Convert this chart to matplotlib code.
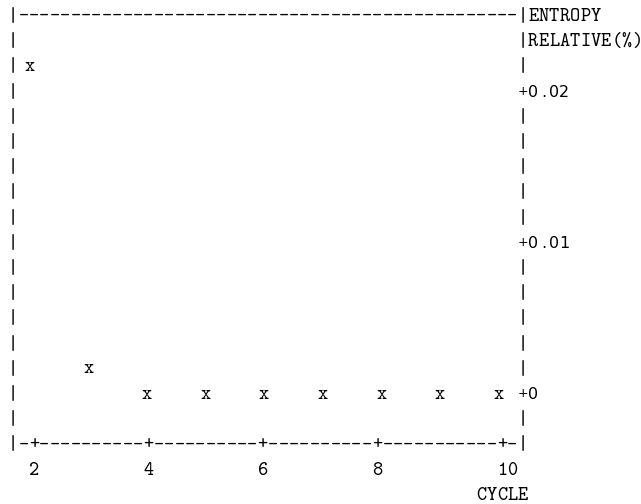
import matplotlib
matplotlib.use('Agg')
import matplotlib.pyplot as plt

# data
cycle = [2, 3, 4, 5, 6, 7, 8, 9, 10]
entropy_rel = [0.0217, 0.0017, 0.0, 0.0, 0.0, 0.0, 0.0, 0.0, 0.0]
x_ticks = [2, 4, 6, 8, 10]
x_tick_labels = ['2', '4', '6', '8', '10']
y_ticks = [0.0, 0.01, 0.02]
y_tick_labels = ['+0', '+0.01', '+0.02']
x_label = 'CYCLE'
y_label = ['ENTROPY', 'RELATIVE(%)']

W, H = 641, 504
CW, X0 = 10.4, 13.2      # char width, centre of column 0 (px)
RH, B0 = 25.2, 21.0      # row height, baseline of row 0 (px from top)
LEFT, RIGHT, BOTTOM = 0, 49, 17   # frame columns / bottom row

tt = dict(family='cmtt10', fontsize=14)
sans = dict(family='DejaVu Sans', fontsize=11.5)
sans_plus = dict(family='DejaVu Sans', fontsize=9)


def col_of(c):
    return 24.11 + 5.633 * (c - 6)


def row_of(v):
    return 15 - 600 * v


fig = plt.figure(figsize=(W / 100, H / 100), dpi=100)

# character grid in pixels
gx = fig.add_axes([0, 0, 1, 1])
gx.set_xlim(0, W)
gx.set_ylim(H, 0)
gx.axis('off')

# data axes, scaled so that values land on the text grid
ax = fig.add_axes([0, 0, 1, 1])
ax.patch.set_visible(False)
ax.axis('off')
px_a = X0 + CW * col_of(0)
px_b = CW * (col_of(1) - col_of(0))
ax.set_xlim((0 - px_a) / px_b, (W - px_a) / px_b)
ax.set_ylim((15 - (H - B0) / RH) / 600, (15 - (0 - B0) / RH) / 600)


def put(col, row, ch, font=tt, dy=0.0):
    gx.text(X0 + CW * col, B0 + RH * row + dy, ch, ha='center', va='baseline', **font)


def put_str(col, row, s, font=tt):
    for i, ch in enumerate(s):
        if ch != ' ':
            put(col + i, row, ch, font)


# frame
tick_rows = [round(row_of(v)) for v in y_ticks]
tick_cols = [round(col_of(t)) for t in x_ticks]
for r in range(0, BOTTOM + 1):
    put(LEFT, r, '|')
    if r not in tick_rows:
        put(RIGHT, r, '|')
for c in range(LEFT + 1, RIGHT):
    put(c, 0, '-')
    if c not in tick_cols:
        put(c, BOTTOM, '-')
put_str(RIGHT + 1, 0, y_label[0])
put_str(RIGHT + 1, 1, y_label[1])
put_str(RIGHT - len(x_label) + 1, BOTTOM + 2, x_label)

# x ticks: '+' on the bottom line, labels underneath
for c, lab in zip(tick_cols, x_tick_labels):
    put(c, BOTTOM, '+')
    put_str(c, BOTTOM + 1, lab)

# y ticks on the right frame: '+' then the value
for r, lab in zip(tick_rows, y_tick_labels):
    put(RIGHT, r, lab[0], sans_plus, dy=-1.6)
    put_str(RIGHT + 1, r, lab[1:], sans)

# points
for c, v in zip(cycle, entropy_rel):
    ax.text(c, v, 'x', ha='center', va='baseline', **tt)

fig.savefig('out.png', dpi=100, facecolor='white')
